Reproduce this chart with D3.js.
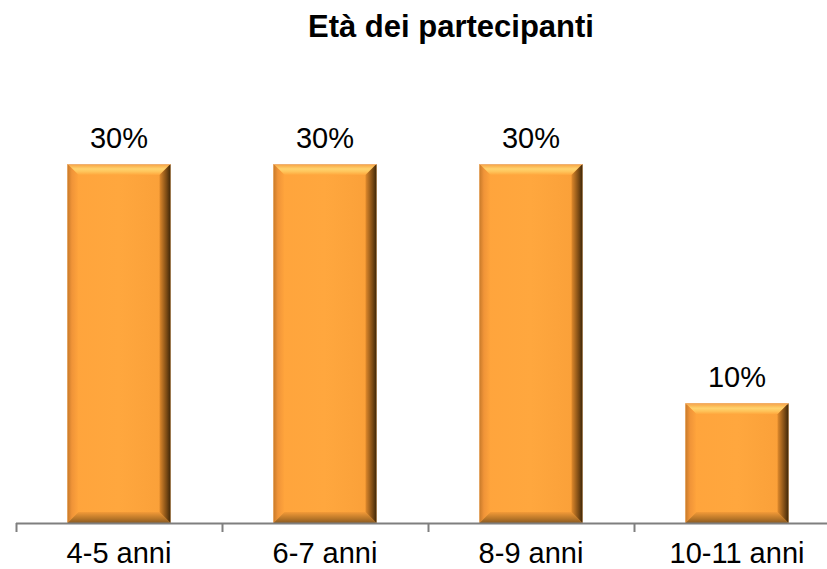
<!DOCTYPE html>
<html><head><meta charset="utf-8">
<script src="https://cdn.jsdelivr.net/npm/d3@7"></script>
<style>body{margin:0;background:#fff}svg{display:block}</style>
</head><body>
<svg id="c" width="827" height="569"></svg>
<script>
const categories = ["4-5 anni","6-7 anni","8-9 anni","10-11 anni"];
const values = [0.30,0.30,0.30,0.10];
const labels = ["30%","30%","30%","10%"];
const title = "Età dei partecipanti";

const svg = d3.select("#c");
const x0 = 16, step = 206;
const x = d3.scaleBand().domain(categories).range([x0, x0 + step*categories.length]).paddingInner(0.5).paddingOuter(0.25);
const y = d3.scaleLinear().domain([0, 0.30]).range([523, 164]);
const FONT = "Liberation Sans, Arial, sans-serif";

const defs = svg.append("defs");
function lg(id, x1,y1,x2,y2, stops){
  const g = defs.append("linearGradient").attr("id",id).attr("x1",x1).attr("y1",y1).attr("x2",x2).attr("y2",y2);
  stops.forEach(s=>g.append("stop").attr("offset",s[0]).attr("stop-color",s[1]));
}
lg("gTop",0,0,0,1,[[0,"#f7a040"],[0.45,"#ffd36e"],[0.7,"#ffc45a"],[1,"#ffa63c"]]);
lg("gRight",1,0,0,0,[[0,"#3d2608"],[0.35,"#7a4a14"],[1,"#e08a2c"]]);
lg("gLeft",0,0,1,0,[[0,"#c87a2a"],[0.4,"#f09438"],[1,"#ffa43c"]]);
lg("gBot",0,1,0,0,[[0,"#8a5a22"],[0.4,"#b87628"],[1,"#f39a38"]]);
lg("gMain",0,0,1,0,[[0,"#ffa43c"],[0.5,"#ffa73e"],[1,"#f99f38"]]);

svg.append("text").attr("x",451).attr("y",37).attr("text-anchor","middle")
  .attr("font-family",FONT).attr("font-weight","bold").attr("font-size",31)
  .attr("fill","#000").text(title);

const bw = x.bandwidth();
const data = categories.map((c,i)=>({c, v:values[i], l:labels[i]}));
const g = svg.append("g");
data.forEach(d=>{
  const bx = x(d.c), by = y(d.v), bh = y(0)-y(d.v), b = 11;
  const gg = g.append("g");
  gg.append("rect").attr("x",bx).attr("y",by).attr("width",bw).attr("height",bh).attr("fill","url(#gMain)");
  const pts = a=>a.map(p=>p.join(",")).join(" ");
  gg.append("polygon").attr("points",pts([[bx,by],[bx+bw,by],[bx+bw-b,by+b],[bx+b,by+b]])).attr("fill","url(#gTop)");
  gg.append("polygon").attr("points",pts([[bx,by],[bx+b,by+b],[bx+b,by+bh-b],[bx,by+bh]])).attr("fill","url(#gLeft)");
  gg.append("polygon").attr("points",pts([[bx,by+bh],[bx+b,by+bh-b],[bx+bw-b,by+bh-b],[bx+bw,by+bh]])).attr("fill","url(#gBot)");
  gg.append("polygon").attr("points",pts([[bx+bw,by],[bx+bw,by+bh],[bx+bw-b,by+bh-b],[bx+bw-b,by+b]])).attr("fill","url(#gRight)");
  gg.append("line").attr("x1",bx).attr("x2",bx+bw).attr("y1",by+0.5).attr("y2",by+0.5).attr("stroke","#f0b070").attr("stroke-width",1);
  svg.append("text").attr("x",bx+bw/2).attr("y",by-16).attr("text-anchor","middle")
    .attr("font-family",FONT).attr("font-size",29).attr("fill","#000").text(d.l);
});

const axisY = y(0);
const ag = svg.append("g");
ag.append("line").attr("x1",x0).attr("x2",x0+step*categories.length).attr("y1",axisY+0.5).attr("y2",axisY+0.5)
  .attr("stroke","#7f7f7f").attr("stroke-width",2);
d3.range(categories.length+1).forEach(i=>{
  const tx = x0 + step*i;
  ag.append("line").attr("x1",tx+0.5).attr("x2",tx+0.5).attr("y1",axisY).attr("y2",axisY+9)
    .attr("stroke","#7f7f7f").attr("stroke-width",2);
});
categories.forEach(c=>{
  svg.append("text").attr("x",x(c)+bw/2).attr("y",563).attr("text-anchor","middle")
    .attr("font-family",FONT).attr("font-size",29).attr("fill","#000").text(c);
});
</script>
</body></html>
